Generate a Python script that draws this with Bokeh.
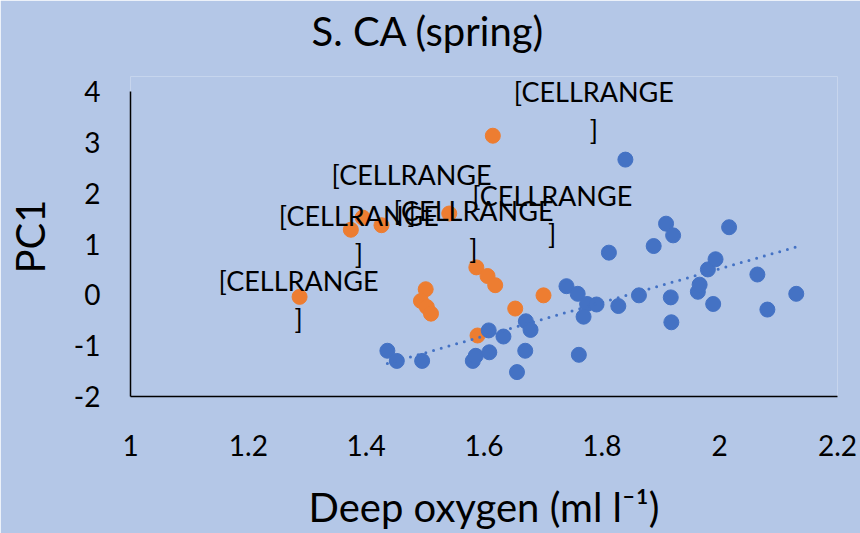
import numpy as np
from bokeh.plotting import figure
from bokeh.models import Range1d, FixedTicker, ColumnDataSource, Title
from bokeh.core.properties import value
from bokeh.embed import file_html
from bokeh.resources import INLINE

# Blue series: deep oxygen (ml/l) vs PC1
blue_oxygen = [1.436, 1.452, 1.495, 1.581, 1.586, 1.609, 1.608, 1.633, 1.656, 1.670,
               1.671, 1.679, 1.740, 1.759, 1.775, 1.791, 1.769, 1.761, 1.812, 1.828,
               1.840, 1.863, 1.888, 1.909, 1.921, 1.917, 1.918, 1.963, 1.966, 1.980,
               1.993, 1.989, 2.016, 2.064, 2.081, 2.130]
blue_pc1 = [-1.10, -1.30, -1.30, -1.30, -1.20, -1.13, -0.70, -0.82, -1.52, -1.10,
            -0.52, -0.69, 0.17, 0.02, -0.18, -0.19, -0.43, -1.18, 0.83, -0.22,
            2.66, -0.01, 0.96, 1.40, 1.17, -0.05, -0.54, 0.06, 0.20, 0.50,
            0.70, -0.18, 1.33, 0.40, -0.29, 0.02]

# Orange series
orange_oxygen = [1.287, 1.374, 1.394, 1.426, 1.541, 1.615, 1.501, 1.493, 1.503, 1.510,
                 1.587, 1.606, 1.619, 1.589, 1.653, 1.701]
orange_pc1 = [-0.04, 1.28, 1.52, 1.37, 1.60, 3.13, 0.11, -0.12, -0.24, -0.37,
              0.54, 0.37, 0.19, -0.80, -0.27, -0.01]

# Data labels attached to the first six orange points (offsets in px, +y = down)
label_text = "[CELLRANGE\n]"
label_points = [0, 1, 2, 3, 4, 5]
label_dx = [-1, 8, 49, 92, 103, 101]
label_dy = [3, 5, -24, 4, 1, -25]

x_ticks = [1, 1.2, 1.4, 1.6, 1.8, 2, 2.2]
x_tick_labels = ["1", "1.2", "1.4", "1.6", "1.8", "2", "2.2"]
y_ticks = [-2, -1, 0, 1, 2, 3, 4]
y_tick_labels = ["-2", "-1", "0", "1", "2", "3", "4"]

title_text = "S. CA (spring)"

BG = "#B4C7E7"
BLUE = "#4472C4"
ORANGE = "#ED7D31"
FONT = "Lato"

# A little headroom above 4 keeps the top data label inside the frame;
# the y axis line itself stops at 4.
PX_PER_UNIT = 305 / 6
Y_TOP = 4 + 15 / PX_PER_UNIT

p = figure(width=860, height=533, output_backend="svg", toolbar_location=None,
           title=None, x_range=Range1d(1, 2.2), y_range=Range1d(-2, Y_TOP),
           min_border_left=130, min_border_right=23, min_border_top=76,
           min_border_bottom=137)
p.background_fill_color = BG
p.border_fill_color = BG
p.outline_line_color = None
p.grid.grid_line_color = None

# Title above a thin spacer panel
p.add_layout(Title(text=" ", text_font_size="1px", standoff=19), "above")
p.add_layout(Title(text=title_text, align="left", offset=181, standoff=0,
                   text_font=FONT, text_font_style="normal", text_font_size="40px",
                   text_color="black"), "above")

for ax in (p.xaxis[0], p.yaxis[0]):
    ax.axis_line_color = "black"
    ax.axis_line_width = 1.5
    ax.major_tick_line_color = None
    ax.minor_tick_line_color = None
    ax.major_tick_out = 0
    ax.major_tick_in = 0
    ax.major_label_text_font = FONT
    ax.major_label_text_font_size = "28px"
    ax.major_label_text_color = "black"
    ax.axis_label_text_font = FONT
    ax.axis_label_text_font_style = "normal"
    ax.axis_label_text_font_size = "40px"
    ax.axis_label_text_color = "black"

p.xaxis.ticker = FixedTicker(ticks=x_ticks)
p.xaxis.major_label_overrides = dict(zip(x_ticks, x_tick_labels))
p.xaxis.axis_label = "Deep oxygen (ml l\u207b\u00b9)"
p.xaxis.major_label_standoff = 38
p.xaxis.axis_label_standoff = 24

p.yaxis.ticker = FixedTicker(ticks=y_ticks)
p.yaxis.bounds = (y_ticks[0], y_ticks[-1])
p.yaxis.major_label_overrides = dict(zip(y_ticks, y_tick_labels))
p.yaxis.axis_label = "PC1"
p.yaxis.major_label_standoff = 30
p.yaxis.axis_label_standoff = 17

p.scatter(orange_oxygen, orange_pc1, size=15, color=ORANGE, line_color=ORANGE)
p.scatter(blue_oxygen, blue_pc1, size=15, color=BLUE, line_color=BLUE)

# Linear trend of the blue series
slope, intercept = np.polyfit(blue_oxygen, blue_pc1, 1)
tx = np.array([min(blue_oxygen), max(blue_oxygen)])
p.line(tx, slope * tx + intercept, line_color=BLUE, line_width=3,
       line_dash="0 8", line_cap="round")

lab = ColumnDataSource(dict(
    x=[orange_oxygen[i] for i in label_points],
    y=[orange_pc1[i] for i in label_points],
    text=[label_text] * len(label_points),
    dx=label_dx,
    dy=label_dy,
))
p.text(x="x", y="y", text="text", x_offset="dx", y_offset="dy", source=lab,
       text_align="center", text_baseline="middle", text_font_size="27px",
       text_font=value(FONT), text_color="black", text_line_height=1.15)

open("out.html", "w").write(file_html(p, INLINE))
